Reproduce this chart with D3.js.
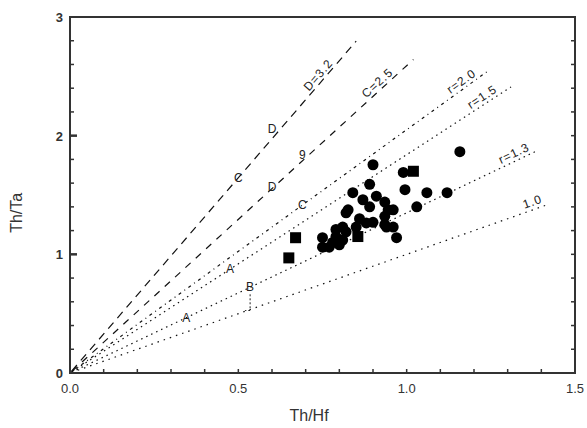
<!DOCTYPE html>
<html>
<head>
<meta charset="utf-8">
<script src="https://cdn.jsdelivr.net/npm/d3@7"></script>
<style>
  body { margin: 0; background: #fff; }
  svg { font-family: "Liberation Sans", Arial, sans-serif; }
</style>
</head>
<body>
<svg id="chart" width="587" height="428"></svg>
<script>
// Reference lines through the origin (Th/Ta = k * Th/Hf)
const lineSlopes = [3.29, 2.59, 2.05, 1.84, 1.35, 1.0];
const lineEnds = [0.85, 1.02, 1.24, 1.31, 1.39, 1.42];
const lineLabels = ["D=3.2", "C=2.5", "r=2.0", "r=1.5", "r=1.3", "1.0"];
const labelStarts = [0.71, 0.88, 1.13, 1.19, 1.28, 1.35];
const lineDash = ["8,6", "7,7", "3,4,1,4", "1.5,4", "1.5,4", "1.5,5"];

// Samples (filled circles)
const circleX = [1.158, 0.90, 0.99, 0.995, 1.06, 1.12, 0.89, 0.84, 0.87, 0.91, 0.935, 0.89,
                 0.945, 0.96, 1.03, 0.826, 0.935, 0.90, 0.81, 0.85, 0.88, 0.94, 0.96, 0.82,
                 0.79, 0.97, 0.75, 0.75, 0.78, 0.79, 0.77, 0.81, 0.82, 0.935, 0.86, 0.80];
const circleY = [1.865, 1.755, 1.69, 1.545, 1.52, 1.52, 1.59, 1.52, 1.46, 1.49, 1.44, 1.40,
                 1.375, 1.375, 1.40, 1.375, 1.32, 1.27, 1.23, 1.23, 1.265, 1.23, 1.23, 1.19,
                 1.15, 1.14, 1.14, 1.06, 1.10, 1.21, 1.06, 1.12, 1.35, 1.25, 1.30, 1.08];

// Samples (filled squares)
const squareX = [1.02, 0.855, 0.67, 0.65];
const squareY = [1.70, 1.15, 1.14, 0.97];

const xTickLabels = ["0.0", "0.5", "1.0", "1.5"];
const yTickLabels = ["0", "1", "2", "3"];

const svg = d3.select("#chart");
const margin = { left: 70, top: 17, right: 12, bottom: 55 };
const width = 587 - margin.left - margin.right;
const height = 428 - margin.top - margin.bottom;
const g = svg.append("g").attr("transform", `translate(${margin.left},${margin.top})`);

const x = d3.scaleLinear().domain([0, 1.5]).range([0, width]);
const y = d3.scaleLinear().domain([0, 3]).range([height, 0]);

// Reference lines
lineSlopes.forEach((k, i) => {
    g.append("path")
        .attr("fill", "none")
        .attr("stroke", "#111")
        .attr("stroke-width", 1.2)
        .attr("stroke-dasharray", lineDash[i])
        .attr("d", d3.line().x(d => x(d)).y(d => y(d * k))([0.005, lineEnds[i]]));

    const ang = Math.atan2(y(0) - y(k), x(1) - x(0)) * 180 / Math.PI;
    g.append("text")
        .attr("transform", `translate(${x(labelStarts[i])},${y(labelStarts[i] * k) - 4}) rotate(${-ang})`)
        .attr("font-size", 12)
        .attr("letter-spacing", 1)
        .attr("fill", "#222")
        .text(lineLabels[i]);
});

// Small field letters along the lines
const fieldLetters = [
    { t: "C", xv: 0.50, k: 3.29, dy: 4 }, { t: "D", xv: 0.60, k: 3.29, dy: -6 },
    { t: "D", xv: 0.60, k: 2.59, dy: 2 }, { t: "9", xv: 0.69, k: 2.59, dy: -2 },
    { t: "C", xv: 0.69, k: 2.05, dy: 4 }, { t: "A", xv: 0.475, k: 1.84, dy: 4 },
    { t: "A", xv: 0.345, k: 1.35, dy: 4 }, { t: "B", xv: 0.535, k: 1.35, dy: 4 }
];
fieldLetters.forEach(f => {
    g.append("text")
        .attr("x", x(f.xv))
        .attr("y", y(f.xv * f.k) + f.dy)
        .attr("text-anchor", "middle")
        .attr("font-size", 12)
        .attr("fill", "#222")
        .text(f.t);
});

// Bracket between lines at B
g.append("path")
    .attr("fill", "none")
    .attr("stroke", "#222")
    .attr("stroke-dasharray", "2,2")
    .attr("d", `M${x(0.535)},${y(0.535 * 1.35) + 7} L${x(0.535)},${y(0.535 * 1.0) + 1} l-5,0`);

// Data points
g.selectAll(".pt")
    .data(circleX.map((v, i) => [v, circleY[i]]))
    .enter().append("circle")
    .attr("class", "pt")
    .attr("cx", d => x(d[0]))
    .attr("cy", d => y(d[1]))
    .attr("r", 5.5)
    .attr("fill", "#000");

g.selectAll(".sq")
    .data(squareX.map((v, i) => [v, squareY[i]]))
    .enter().append("rect")
    .attr("class", "sq")
    .attr("x", d => x(d[0]) - 5.5)
    .attr("y", d => y(d[1]) - 5.5)
    .attr("width", 11)
    .attr("height", 11)
    .attr("fill", "#000");

// Frame
g.append("rect")
    .attr("width", width)
    .attr("height", height)
    .attr("fill", "none")
    .attr("stroke", "#333")
    .attr("stroke-width", 2);

// Inward ticks
const yMinor = d3.range(0.2, 3, 0.2);
g.selectAll(".ytl")
    .data(yMinor).enter().append("line")
    .attr("x1", 0).attr("x2", d => Math.abs(d - Math.round(d)) < 0.01 ? 7 : 4)
    .attr("y1", d => y(d)).attr("y2", d => y(d))
    .attr("stroke", "#333").attr("stroke-width", d => Math.abs(d - Math.round(d)) < 0.01 ? 2.5 : 1.5);
g.selectAll(".ytr")
    .data(yMinor).enter().append("line")
    .attr("x1", width).attr("x2", width - 4)
    .attr("y1", d => y(d)).attr("y2", d => y(d))
    .attr("stroke", "#333").attr("stroke-width", 1.5);
g.selectAll(".xtb")
    .data(d3.range(0.1, 1.5, 0.1)).enter().append("line")
    .attr("x1", d => x(d)).attr("x2", d => x(d))
    .attr("y1", height).attr("y2", height - 4)
    .attr("stroke", "#333").attr("stroke-width", 1.5);

// Tick labels
g.selectAll(".xl")
    .data(xTickLabels).enter().append("text")
    .attr("x", d => x(+d))
    .attr("y", height + 20)
    .attr("text-anchor", "middle")
    .attr("font-size", 13)
    .attr("fill", "#333")
    .text(d => d);

g.selectAll(".yl")
    .data(yTickLabels).enter().append("text")
    .attr("x", -7)
    .attr("y", d => y(+d) + 5)
    .attr("text-anchor", "end")
    .attr("font-size", 13)
    .attr("font-weight", "bold")
    .attr("fill", "#333")
    .text(d => d);

// Axis titles
g.append("text")
    .attr("x", x(0.71))
    .attr("y", height + 48)
    .attr("text-anchor", "middle")
    .attr("font-size", 16)
    .attr("fill", "#333")
    .text("Th/Hf");

g.append("text")
    .attr("transform", `translate(-48,${y(1.35)}) rotate(-90)`)
    .attr("text-anchor", "middle")
    .attr("font-size", 16)
    .attr("fill", "#333")
    .text("Th/Ta");
</script>
</body>
</html>
